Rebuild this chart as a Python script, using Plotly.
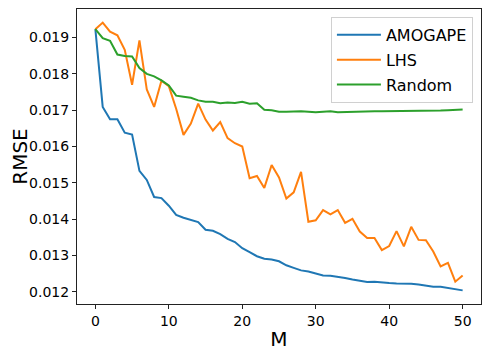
import plotly.graph_objects as go

M = list(range(51))

amogape = [
    0.01923, 0.01709, 0.01675, 0.01675, 0.01638, 0.01633, 0.01533, 0.01508,
    0.01461, 0.01458, 0.01437, 0.01412, 0.01404, 0.01398, 0.01392, 0.01371,
    0.01368, 0.01359, 0.01346, 0.01337, 0.01320, 0.01309, 0.01298, 0.01291,
    0.01289, 0.01284, 0.01273, 0.01266, 0.01259, 0.01256, 0.01251, 0.01245,
    0.01244, 0.01242, 0.01238, 0.01234, 0.01230, 0.01227, 0.01228, 0.01225,
    0.01224, 0.01223, 0.01223, 0.01222, 0.01220, 0.01217, 0.01214, 0.01214,
    0.01211, 0.01207, 0.01204,
]

lhs = [
    0.01923, 0.01941, 0.01916, 0.01906, 0.01866, 0.01770, 0.01892, 0.01757,
    0.01709, 0.01781, 0.01766, 0.01704, 0.01632, 0.01663, 0.01718, 0.01674,
    0.01644, 0.01667, 0.01623, 0.01609, 0.01600, 0.01513, 0.01519, 0.01486,
    0.01549, 0.01515, 0.01457, 0.01474, 0.01530, 0.01393, 0.01397, 0.01425,
    0.01413, 0.01425, 0.01390, 0.01401, 0.01366, 0.01348, 0.01348, 0.01315,
    0.01326, 0.01367, 0.01325, 0.01379, 0.01343, 0.01342, 0.01311, 0.01270,
    0.01280, 0.01228, 0.01245,
]

random_ = [
    0.01923, 0.01898, 0.01891, 0.01853, 0.01849, 0.01848, 0.01816, 0.01800,
    0.01793, 0.01782, 0.01768, 0.01740, 0.01737, 0.01734, 0.01727, 0.01723,
    0.01723, 0.01719, 0.01721, 0.01720, 0.01723, 0.01718, 0.01719, 0.01701,
    0.01700, 0.01696, 0.01696, 0.01697, 0.01697, 0.01696, 0.01694, 0.01696,
    0.01697, 0.01694, 0.01695, 0.01695, 0.01696, 0.01696, 0.01697, 0.01697,
    0.01697, 0.01697, 0.01697, 0.01698, 0.01698, 0.01698, 0.01699, 0.01699,
    0.01700, 0.01700, 0.01702,
]

series = [("AMOGAPE", amogape, "#1f77b4"), ("LHS", lhs, "#ff7f0e"),
          ("Random", random_, "#2ca02c")]

x_ticks = [0, 10, 20, 30, 40, 50]
y_ticks = [0.012, 0.013, 0.014, 0.015, 0.016, 0.017, 0.018, 0.019]

fig = go.Figure()
for name, vals, color in series:
    # one legend group per trace so tracegroupgap spaces the rows out
    fig.add_trace(go.Scatter(x=M, y=vals, name=name, mode="lines",
                             legendgroup=name,
                             line=dict(color=color, width=2)))

axis_style = dict(showline=True, linecolor="#222", linewidth=1, mirror=True,
                  ticks="outside", ticklen=4, tickcolor="#222", showgrid=False,
                  zeroline=False, automargin=False,
                  tickfont=dict(size=14, color="black"))

fig.update_xaxes(range=[-2.5, 52.5], tickvals=x_ticks,
                 title=dict(text="M", font=dict(size=20, color="black"), standoff=4),
                 **axis_style)
fig.update_yaxes(range=[0.011665, 0.019785], tickvals=y_ticks, tickformat=".3f",
                 title=dict(text="RMSE", font=dict(size=20, color="black"), standoff=10),
                 **axis_style)

# the page body keeps its default 8px margin, so the figure is 8px smaller
# and the top/left margins are 8px less than the target offsets
fig.update_layout(
    width=483, height=347,
    margin=dict(l=69, r=10, t=1, b=51),
    plot_bgcolor="white", paper_bgcolor="white",
    font=dict(family="DejaVu Sans", color="black"),
    legend=dict(x=0.98, y=0.973, xanchor="right", yanchor="top",
                bgcolor="white", bordercolor="#d0d0d0", borderwidth=1,
                font=dict(size=16, color="black"), tracegroupgap=1,
                itemwidth=44),
    showlegend=True,
)

fig.write_html("out.html")
